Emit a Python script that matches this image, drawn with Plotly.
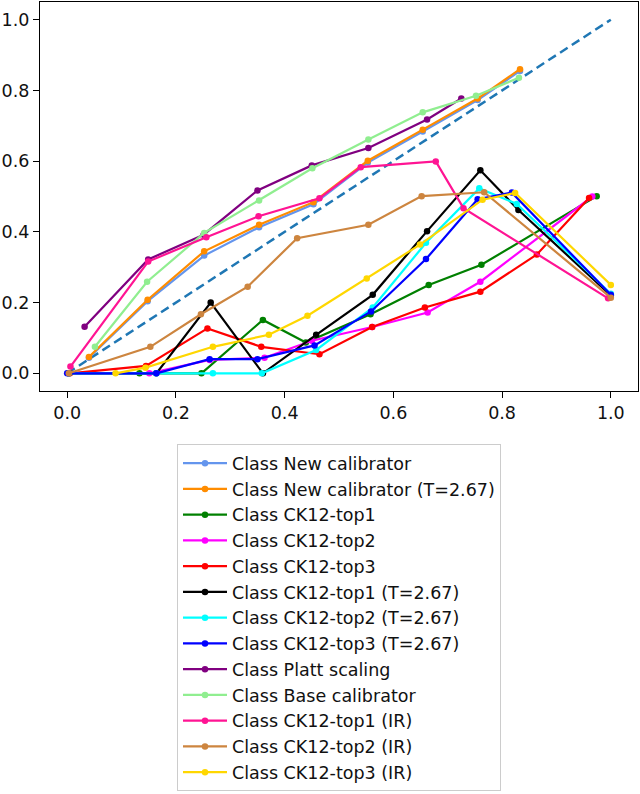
import plotly.graph_objects as go

# reliability curves, one (x, y) pair per method
labels = [
    "Class New calibrator", "Class New calibrator (T=2.67)",
    "Class CK12-top1", "Class CK12-top2", "Class CK12-top3",
    "Class CK12-top1 (T=2.67)", "Class CK12-top2 (T=2.67)", "Class CK12-top3 (T=2.67)",
    "Class Platt scaling", "Class Base calibrator",
    "Class CK12-top1 (IR)", "Class CK12-top2 (IR)", "Class CK12-top3 (IR)",
]
colors = ["cornflowerblue", "darkorange", "green", "magenta", "red",
          "black", "cyan", "blue", "purple", "lightgreen",
          "deeppink", "peru", "gold"]

x_new = [0.040, 0.148, 0.252, 0.353, 0.453, 0.553, 0.654, 0.755, 0.833]
y_new = [0.044, 0.204, 0.333, 0.413, 0.478, 0.596, 0.684, 0.773, 0.855]
x_new_t = [0.040, 0.148, 0.252, 0.353, 0.453, 0.553, 0.654, 0.755, 0.833]
y_new_t = [0.046, 0.208, 0.345, 0.420, 0.484, 0.601, 0.689, 0.777, 0.860]

x_top1 = [0.133, 0.247, 0.360, 0.439, 0.558, 0.665, 0.762, 0.974]
y_top1 = [0.0, 0.0, 0.151, 0.087, 0.167, 0.250, 0.307, 0.501]
x_top2 = [0.003, 0.151, 0.262, 0.363, 0.450, 0.561, 0.663, 0.760, 0.966]
y_top2 = [0.0, 0.0, 0.038, 0.044, 0.092, 0.131, 0.172, 0.259, 0.500]
x_top3 = [0.005, 0.145, 0.258, 0.357, 0.464, 0.561, 0.658, 0.760, 0.864, 0.960]
y_top3 = [0.0, 0.021, 0.127, 0.075, 0.054, 0.131, 0.186, 0.231, 0.336, 0.496]

x_top1_t = [0.003, 0.164, 0.264, 0.360, 0.458, 0.562, 0.662, 0.760, 0.830, 1.0]
y_top1_t = [0.0, 0.0, 0.200, 0.0, 0.109, 0.222, 0.402, 0.574, 0.462, 0.220]
x_top2_t = [0.003, 0.164, 0.268, 0.358, 0.458, 0.562, 0.660, 0.758, 0.827, 1.0]
y_top2_t = [0.0, 0.0, 0.0, 0.0, 0.066, 0.186, 0.369, 0.523, 0.479, 0.225]
x_top3_t = [0.0, 0.164, 0.262, 0.350, 0.455, 0.559, 0.660, 0.755, 0.818, 1.0]
y_top3_t = [0.0, 0.0, 0.040, 0.040, 0.079, 0.175, 0.323, 0.492, 0.511, 0.222]

x_platt = [0.032, 0.149, 0.251, 0.350, 0.450, 0.554, 0.662, 0.725]
y_platt = [0.132, 0.322, 0.392, 0.517, 0.588, 0.637, 0.718, 0.777]
x_base = [0.051, 0.147, 0.252, 0.353, 0.451, 0.554, 0.654, 0.752, 0.831]
y_base = [0.075, 0.259, 0.397, 0.489, 0.580, 0.661, 0.738, 0.785, 0.836]

x_top1_ir = [0.006, 0.149, 0.256, 0.352, 0.464, 0.540, 0.678, 0.729, 0.995]
y_top1_ir = [0.019, 0.316, 0.385, 0.444, 0.495, 0.583, 0.599, 0.467, 0.212]
x_top2_ir = [0.003, 0.153, 0.246, 0.332, 0.423, 0.554, 0.652, 0.767, 1.0]
y_top2_ir = [0.0, 0.075, 0.167, 0.245, 0.382, 0.420, 0.501, 0.512, 0.214]
x_top3_ir = [0.089, 0.144, 0.268, 0.371, 0.442, 0.551, 0.649, 0.764, 0.824, 1.0]
y_top3_ir = [0.0, 0.016, 0.075, 0.109, 0.163, 0.268, 0.364, 0.491, 0.510, 0.250]

diag = [0.0, 1.0]

xs = [x_new, x_new_t, x_top1, x_top2, x_top3, x_top1_t, x_top2_t, x_top3_t,
      x_platt, x_base, x_top1_ir, x_top2_ir, x_top3_ir]
ys = [y_new, y_new_t, y_top1, y_top2, y_top3, y_top1_t, y_top2_t, y_top3_t,
      y_platt, y_base, y_top1_ir, y_top2_ir, y_top3_ir]

fig = go.Figure()
fig.add_trace(go.Scatter(x=diag, y=diag, mode="lines", showlegend=False,
                         line=dict(color="#1f77b4", width=2.5, dash="9px,5px")))
for lab, col, x, y in zip(labels, colors, xs, ys):
    fig.add_trace(go.Scatter(x=x, y=y, mode="lines+markers", name=lab,
                             legendgroup=lab,
                             line=dict(color=col, width=2.2),
                             marker=dict(color=col, size=6.5)))

axis = dict(range=[-0.05, 1.05], tickvals=[0, 0.2, 0.4, 0.6, 0.8, 1.0],
            tickformat=".1f", showgrid=False, zeroline=False, automargin=False,
            showline=True, linecolor="black", linewidth=1.2, mirror=True,
            ticks="outside", ticklen=6, tickcolor="black",
            tickfont=dict(size=17.5, color="#111"))

fig.update_layout(
    width=640, height=794,
    margin=dict(l=40, r=2, t=2, b=403, autoexpand=False),
    plot_bgcolor="white", paper_bgcolor="white",
    font=dict(family="DejaVu Sans", size=17.5, color="#111"),
    xaxis=axis, yaxis=axis,
    legend=dict(x=0.5, xanchor="center", y=-0.137, yanchor="top",
                bordercolor="#cccccc", borderwidth=1, tracegroupgap=0,
                itemwidth=44, font=dict(size=17.5), traceorder="grouped"),
)

# the page's default body margin would push the figure 8px down/right
fig.write_html("out.html", config={"displayModeBar": False},
               post_script="document.body.style.margin='0';document.body.style.overflow='hidden';")
